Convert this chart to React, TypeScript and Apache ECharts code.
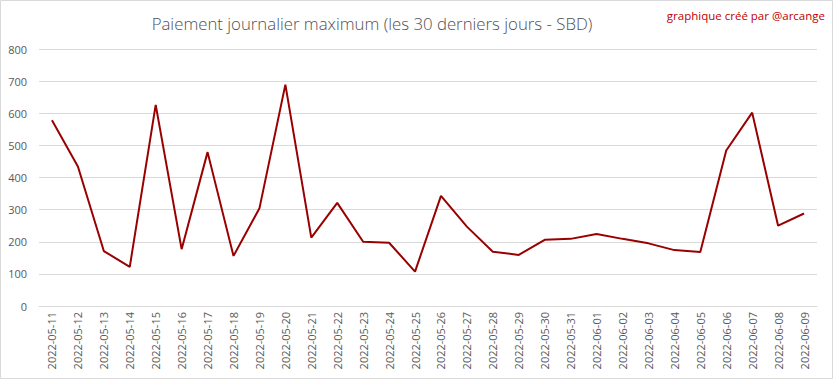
import React, { useEffect, useRef } from "react";
import * as echarts from "echarts";

const dates = [
  "2022-05-11", "2022-05-12", "2022-05-13", "2022-05-14", "2022-05-15",
  "2022-05-16", "2022-05-17", "2022-05-18", "2022-05-19", "2022-05-20",
  "2022-05-21", "2022-05-22", "2022-05-23", "2022-05-24", "2022-05-25",
  "2022-05-26", "2022-05-27", "2022-05-28", "2022-05-29", "2022-05-30",
  "2022-05-31", "2022-06-01", "2022-06-02", "2022-06-03", "2022-06-04",
  "2022-06-05", "2022-06-06", "2022-06-07", "2022-06-08", "2022-06-09",
];

const maxPayout = [
  578, 434, 171, 122, 626, 177, 479, 156, 304, 689,
  213, 321, 200, 197, 107, 343, 247, 169, 159, 206,
  209, 224, 209, 195, 174, 168, 484, 602, 250, 288,
];

const titleText = "Paiement journalier maximum (les 30 derniers jours - SBD)";
const creditText = "graphique créé par @arcange";

export default function App() {
  const ref = useRef<HTMLDivElement>(null);
  useEffect(() => {
    if (!ref.current) return;
    const chart = echarts.init(ref.current, null, { renderer: "svg" });
    chart.setOption({
      animation: false,
      backgroundColor: "#ffffff",
      title: {
        text: titleText,
        left: 367,
        top: 10,
        textAlign: "center",
        textStyle: {
          fontFamily: "Open Sans",
          fontWeight: 300,
          fontSize: 16.8,
          color: "#505050",
        },
      },
      graphic: [
        {
          type: "rect",
          shape: { x: 0.5, y: 0.5, width: 832, height: 378 },
          style: { fill: "none", stroke: "#d9d9d9", lineWidth: 1 },
          silent: true,
        },
        {
          type: "text",
          right: 8,
          top: 9,
          style: {
            text: creditText,
            fill: "#c00000",
            font: "11.5px 'Open Sans'",
          },
        },
      ],
      grid: { left: 39, right: 16, top: 49, bottom: 73 },
      xAxis: {
        type: "category",
        data: dates,
        boundaryGap: true,
        axisLine: { show: true, lineStyle: { color: "#d9d9d9" } },
        axisTick: { show: false },
        axisLabel: {
          rotate: 90,
          interval: 0,
          color: "#595959",
          fontFamily: "Open Sans",
          fontSize: 11,
          margin: 6,
        },
      },
      yAxis: {
        type: "value",
        min: 0,
        max: 800,
        interval: 100,
        axisLine: { show: false },
        axisTick: { show: false },
        splitLine: { lineStyle: { color: "#d9d9d9" } },
        axisLabel: {
          color: "#595959",
          fontFamily: "Open Sans",
          fontSize: 11,
          margin: 12,
        },
      },
      series: [
        {
          type: "line",
          data: maxPayout,
          symbol: "none",
          lineStyle: { color: "#990000", width: 2 },
        },
      ],
    });
    return () => chart.dispose();
  }, []);
  return (
    <div
      ref={ref}
      style={{ position: "fixed", left: 0, top: 0, width: 833, height: 379 }}
    />
  );
}
